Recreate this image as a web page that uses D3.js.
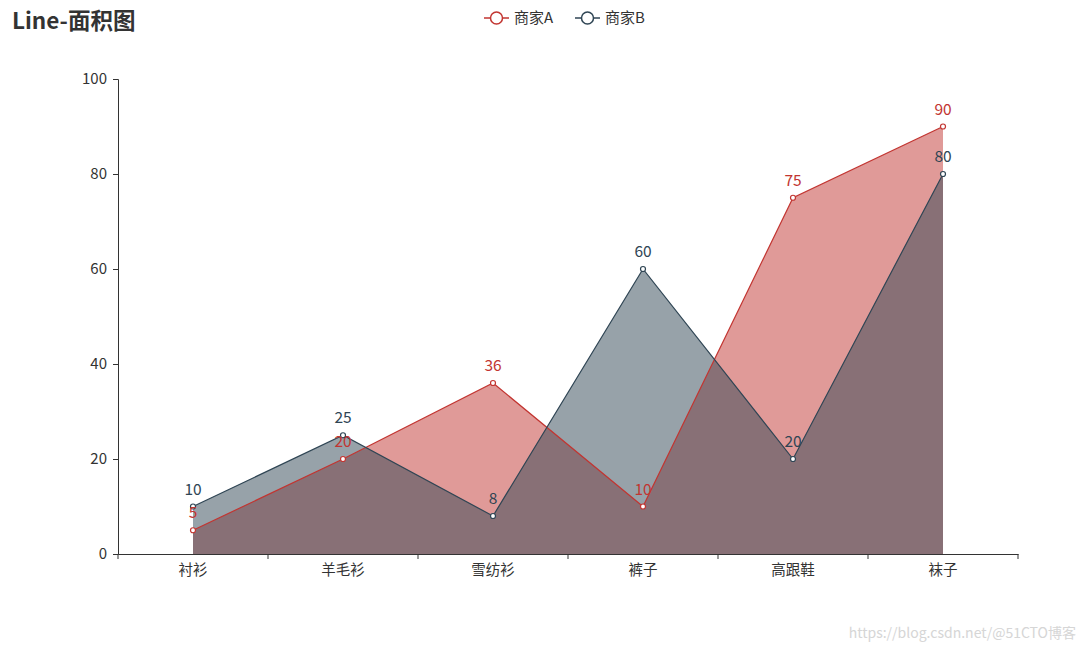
<!DOCTYPE html>
<html><head><meta charset="utf-8">
<script src="https://cdn.jsdelivr.net/npm/d3@7"></script>
<style>body{margin:0;background:#fff;font-family:"Microsoft YaHei","Noto Sans CJK SC",sans-serif;}</style>
</head><body><svg id="c" width="1086" height="651"></svg>
<script>
const categories = ["衬衫","羊毛衫","雪纺衫","裤子","高跟鞋","袜子"];
const seriesNames = ["商家A","商家B"];
const valuesA = [5,20,36,10,75,90];
const valuesB = [10,25,8,60,20,80];
const yTicks = [0,20,40,60,80,100];
const colors = ["#c23531","#2f4554"];

const svg = d3.select("#c");
const font = '"Noto Sans CJK SC",sans-serif';
const m = {l:118, r:1018, t:79, b:554};
const x = d3.scaleBand().domain(categories).range([m.l, m.r]);
const y = d3.scaleLinear().domain([0,100]).range([m.b, m.t]);
const cx = d => x(d) + x.bandwidth()/2;

// title
svg.append("text").attr("x",12).attr("y",29).attr("font-family",font).attr("font-weight","bold")
  .attr("font-size",22.5).attr("fill","#333").text("Line-面积图");

// legend
const leg = svg.append("g");
const legX = [484, 575];
seriesNames.forEach((n,i)=>{
  const g = leg.append("g").attr("transform",`translate(${legX[i]},18)`);
  g.append("line").attr("x1",0).attr("x2",25).attr("y1",0).attr("y2",0).attr("stroke",colors[i]).attr("stroke-width",1.5);
  g.append("circle").attr("cx",12.5).attr("cy",0).attr("r",6).attr("fill","#fff").attr("stroke",colors[i]).attr("stroke-width",1.5);
  g.append("text").attr("x",30).attr("y",5).attr("font-family",font).attr("font-size",15).attr("fill","#333").text(n);
});

// y axis
const ya = svg.append("g").attr("transform",`translate(${m.l},0)`)
  .call(d3.axisLeft(y).tickValues(yTicks).tickSize(5).tickPadding(6));
ya.select(".domain").attr("stroke","#333");
ya.selectAll(".tick line").attr("stroke","#333");
ya.selectAll("text").attr("font-family",font).attr("font-size",15).attr("fill","#333");

// areas & lines
const data = [valuesA, valuesB];
data.forEach((vals,i)=>{
  const pts = categories.map((c,j)=>[cx(c), vals[j]]);
  const area = d3.area().x(d=>d[0]).y0(y(0)).y1(d=>y(d[1]));
  svg.append("path").datum(pts).attr("d",area).attr("fill",colors[i]).attr("fill-opacity",0.5);
});
data.forEach((vals,i)=>{
  const pts = categories.map((c,j)=>[cx(c), vals[j]]);
  const line = d3.line().x(d=>d[0]).y(d=>y(d[1]));
  svg.append("path").datum(pts).attr("d",line).attr("fill","none").attr("stroke",colors[i]).attr("stroke-width",1.2);
});

// x axis
const xa = svg.append("g").attr("transform",`translate(0,${m.b})`)
  .call(d3.axisBottom(x).tickSize(0).tickPadding(11));
xa.select(".domain").attr("stroke","#333");
xa.selectAll("text").attr("font-family",font).attr("font-size",14.5).attr("fill","#333");
const bounds = categories.map(c=>x(c)).concat([x(categories[categories.length-1])+x.bandwidth()]);
svg.append("g").selectAll("line").data(bounds).join("line")
  .attr("x1",d=>d).attr("x2",d=>d).attr("y1",m.b).attr("y2",m.b+5).attr("stroke","#333");

// symbols & labels
data.forEach((vals,i)=>{
  categories.forEach((c,j)=>{
    svg.append("circle").attr("cx",cx(c)).attr("cy",y(vals[j])).attr("r",2.5)
      .attr("fill","#fff").attr("stroke",colors[i]).attr("stroke-width",1.2);
  });
});
data.forEach((vals,i)=>{
  categories.forEach((c,j)=>{
    svg.append("text").attr("x",cx(c)).attr("y",y(vals[j])-12).attr("text-anchor","middle")
      .attr("font-family",font).attr("font-size",15.5).attr("fill",colors[i]).text(vals[j]);
  });
});

// watermark
svg.append("text").attr("x",1076).attr("y",638).attr("text-anchor","end").attr("font-family",font)
  .attr("font-size",14).attr("fill","#ccc").attr("opacity",0.8).text("https://blog.csdn.net/@51CTO博客");
</script></body></html>
